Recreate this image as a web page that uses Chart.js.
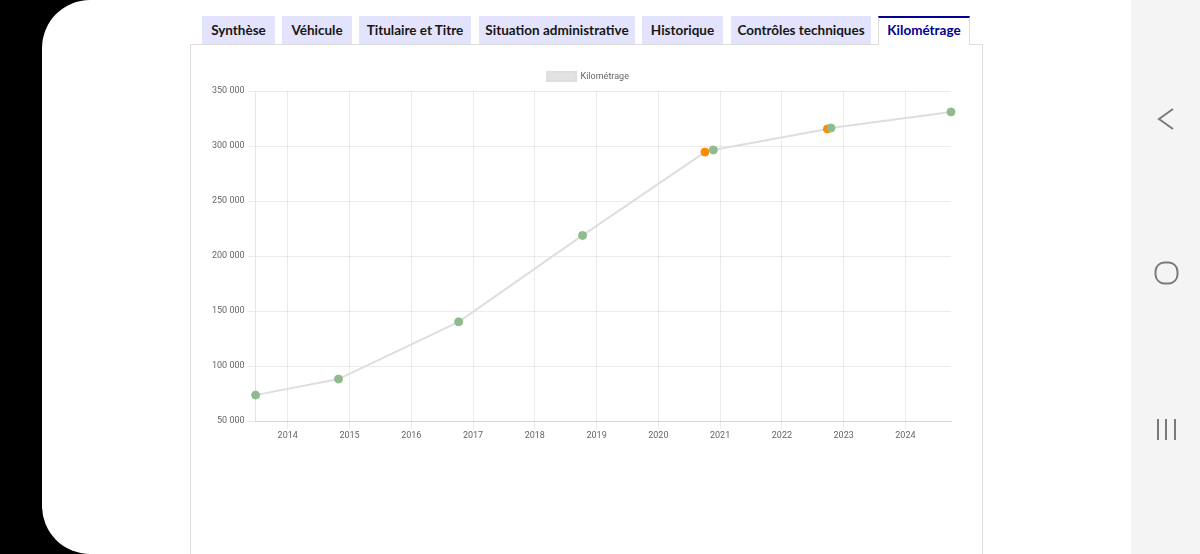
<!DOCTYPE html>
<html lang="fr">
<head>
<meta charset="utf-8">
<title>Kilométrage</title>
<script src="https://cdn.jsdelivr.net/npm/chart.js@4.4.1/dist/chart.umd.min.js"></script>
<style>
    html, body { margin: 0; padding: 0; }
    body { width: 1200px; height: 554px; background: #000; position: relative; overflow: hidden; font-family: Lato, sans-serif; }
    .screen { position: absolute; left: 42px; top: 0; width: 1089px; height: 554px; background: #fff; border-radius: 48px 0 0 48px; }
    .navbar { position: absolute; left: 1131px; top: 0; width: 69px; height: 554px; background: #f4f4f4; }
    .tabs { position: absolute; left: 202px; top: 16px; height: 28px; }
    .tab { position: absolute; top: 0; height: 28px; line-height: 28px; background: #e3e3fd; color: #161616; font-weight: 700; font-size: 13.5px; text-align: center; white-space: nowrap; }
    .tab.active { background: #fff; color: #000091; border-top: 2px solid #000091; height: 27px; line-height: 25px; border-left: 1px solid #ddd; border-right: 1px solid #ddd; z-index: 2; }
    .panel { position: absolute; left: 190px; top: 44px; width: 791px; height: 520px; border: 1px solid #ddd; background: #fff; }
    #wrap { position: absolute; left: 205px; top: 62px; width: 760px; height: 380px; }
</style>
</head>
<body>
<div class="screen"></div>
<div class="navbar">
    <svg width="69" height="554">
        <polyline points="42,109 28,119 42,129" fill="none" stroke="#7a7a7a" stroke-width="2"/>
        <rect x="24.5" y="262.5" width="22" height="21" rx="9" fill="none" stroke="#7a7a7a" stroke-width="2"/>
        <line x1="27" y1="419" x2="27" y2="440" stroke="#7a7a7a" stroke-width="2"/>
        <line x1="35" y1="419" x2="35" y2="440" stroke="#7a7a7a" stroke-width="2"/>
        <line x1="44" y1="419" x2="44" y2="440" stroke="#7a7a7a" stroke-width="2"/>
    </svg>
</div>
<div class="panel"></div>
<div class="tabs">
    <div class="tab" style="left:0;width:73px">Synthèse</div>
    <div class="tab" style="left:80px;width:70px">Véhicule</div>
    <div class="tab" style="left:157px;width:112px">Titulaire et Titre</div>
    <div class="tab" style="left:277px;width:156px">Situation administrative</div>
    <div class="tab" style="left:440px;width:81px">Historique</div>
    <div class="tab" style="left:529px;width:140px">Contrôles techniques</div>
    <div class="tab active" style="left:676px;width:90px">Kilométrage</div>
</div>
<div id="wrap"><canvas id="kmChart"></canvas></div>
<script>
const readingDates = ['2013-06-25', '2014-10-28', '2016-10-08', '2018-10-10', '2020-10-03', '2020-11-22', '2022-09-27', '2022-10-18', '2024-09-27'];
const kmValues = [73700, 88300, 140300, 218800, 294500, 296400, 315500, 316400, 331000];
const pointColors = ['#8fbc8f', '#8fbc8f', '#8fbc8f', '#8fbc8f', '#ff8c00', '#8fbc8f', '#ff8c00', '#8fbc8f', '#8fbc8f'];

// date string -> decimal year, so a linear axis can stand in for a time axis
function toYear(str) {
    const d = new Date(str + 'T00:00:00Z');
    const y = d.getUTCFullYear();
    const start = Date.UTC(y, 0, 1);
    const end = Date.UTC(y + 1, 0, 1);
    return y + (d.getTime() - start) / (end - start);
}

function formatKm(v) {
    return String(v).replace(/\B(?=(\d{3})+(?!\d))/g, ' ');
}

// nudge the legend a little to the right, like the original page
const legendShift = {
    id: 'legendShift',
    afterUpdate(chart) {
        if (chart.legend) {
            chart.legend.left += 8;
            chart.legend.right += 8;
        }
    }
};

window.onload = () => {
    const ctx = document.getElementById('kmChart').getContext('2d');
    const points = readingDates.map((d, i) => ({ x: toYear(d), y: kmValues[i] }));

    Chart.defaults.font.family = 'Roboto, sans-serif';
    Chart.defaults.font.size = 9;
    Chart.defaults.color = '#666';

    new Chart(ctx, {
        type: 'line',
        data: {
            datasets: [{
                label: 'Kilométrage',
                data: points,
                backgroundColor: '#e2e2e2',
                borderColor: '#dedede',
                borderWidth: 2,
                pointBackgroundColor: pointColors,
                pointBorderColor: pointColors,
                pointRadius: 4,
                pointBorderWidth: 1,
                tension: 0,
                clip: false
            }]
        },
        options: {
            responsive: true,
            maintainAspectRatio: false,
            animation: false,
            layout: { padding: { left: 4, right: 14, top: 0, bottom: 0 } },
            plugins: {
                legend: {
                    labels: { boxWidth: 29, boxHeight: 9, padding: 10 }
                },
                tooltip: { enabled: false }
            },
            scales: {
                x: {
                    type: 'linear',
                    min: points[0].x,
                    max: points[points.length - 1].x,
                    grid: { color: 'rgba(0,0,0,0.08)' },
                    ticks: {
                        stepSize: 1,
                        includeBounds: false,
                        maxRotation: 0,
                        padding: 1,
                        callback: (v) => String(v)
                    }
                },
                y: {
                    min: 50000,
                    max: 350000,
                    grid: { color: 'rgba(0,0,0,0.08)' },
                    ticks: {
                        stepSize: 50000,
                        padding: 3,
                        callback: (v) => formatKm(v)
                    }
                }
            }
        },
        plugins: [legendShift]
    });
};
</script>
</body>
</html>
